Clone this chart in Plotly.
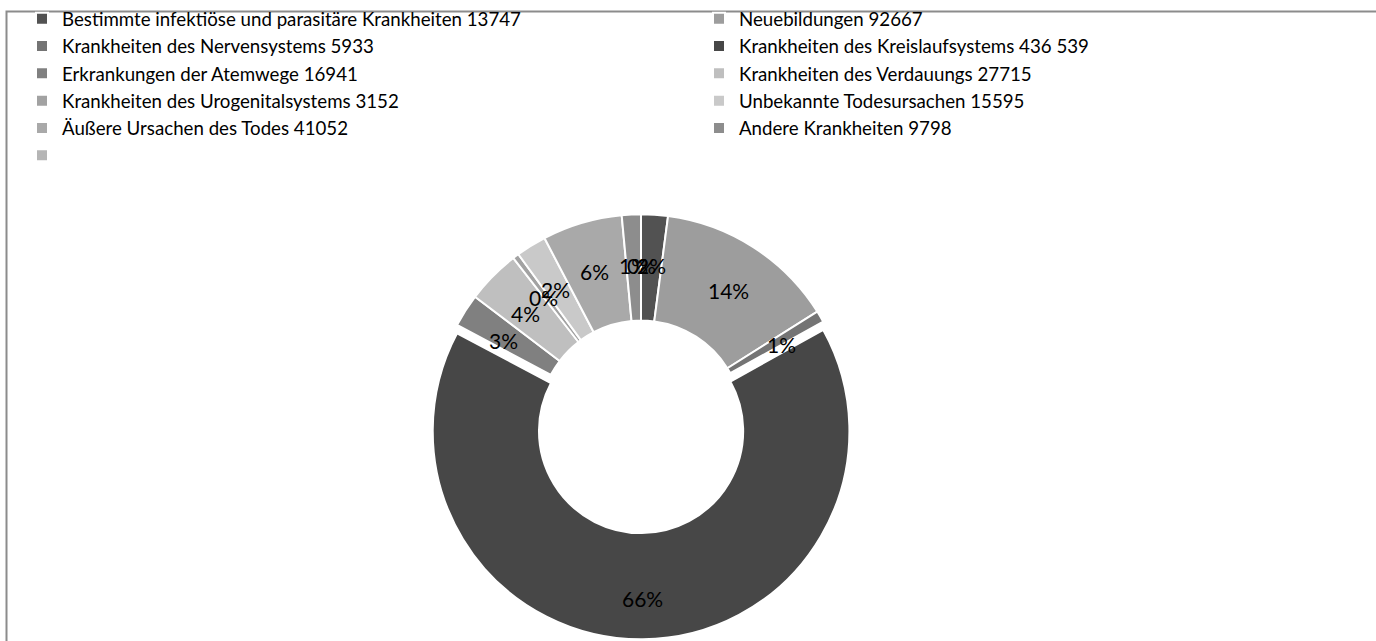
import math
import plotly.graph_objects as go

categories = [
    "Bestimmte infektiöse und parasitäre Krankheiten",
    "Neuebildungen",
    "Krankheiten des Nervensystems",
    "Krankheiten des Kreislaufsystems",
    "Erkrankungen der Atemwege",
    "Krankheiten des Verdauungs",
    "Krankheiten des Urogenitalsystems",
    "Unbekannte Todesursachen",
    "Äußere Ursachen des Todes",
    "Andere Krankheiten",
    "",
]
values = [13747, 92667, 5933, 436539, 16941, 27715, 3152, 15595, 41052, 9798, 0]
value_labels = ["13747", "92667", "5933", "436 539", "16941", "27715", "3152",
                "15595", "41052", "9798", ""]
colors = ["#525252", "#9d9d9d", "#747474", "#474747", "#808080", "#bfbfbf",
          "#a2a2a2", "#c9c9c9", "#a9a9a9", "#8d8d8d", "#b5b5b5"]
pulls = [0, 0, 0, 0.04, 0, 0, 0, 0, 0, 0, 0]
HOLE = 0.49
LABEL_R = 0.78  # label distance as fraction of the outer radius

legend_labels = [(c + " " + v).strip() or " " for c, v in zip(categories, value_labels)]

W, H = 1376, 641
cx, cy, r = 641, 422, 209
maxpull = max(pulls)
half = r * (1 + maxpull)
dom = dict(x=[(cx - half) / W, (cx + half) / W],
           y=[(H - cy - half) / H, (H - cy + half) / H])

fig = go.Figure()
fig.add_trace(go.Pie(
    labels=legend_labels,
    values=values,
    sort=False,
    direction="clockwise",
    rotation=0,
    hole=HOLE,
    pull=pulls,
    marker=dict(colors=colors, line=dict(color="white", width=2)),
    textinfo="none",
    domain=dom,
    hoverinfo="label+value+percent",
))

# percentage labels placed along each slice's mid-angle
total = sum(values)
annotations = []
cum = 0
for v, p in zip(values, pulls):
    ang = math.radians((cum + v / 2) / total * 360)
    rr = (LABEL_R + p) * r
    annotations.append(dict(
        x=(cx + rr * math.sin(ang)) / W,
        y=(H - cy + rr * math.cos(ang)) / H,
        xref="paper", yref="paper", showarrow=False,
        text=f"{round(v / total * 100)}%",
        font=dict(color="black", size=21, family="Lato"),
        xanchor="center", yanchor="middle", yshift=-5,
    ))
    cum += v

fig.update_layout(
    width=W, height=H,
    margin=dict(l=0, r=0, t=0, b=0),
    paper_bgcolor="white",
    font=dict(family="Lato", size=18.7, color="black"),
    showlegend=True,
    legend=dict(
        orientation="h",
        x=0.032, y=1.003, xanchor="left", yanchor="top",
        entrywidth=632, entrywidthmode="pixels",
        itemwidth=30,
        font=dict(family="Lato", size=18.7, color="black"),
        bgcolor="rgba(0,0,0,0)",
        traceorder="normal",
    ),
    annotations=annotations,
    shapes=[dict(type="rect", xref="paper", yref="paper",
                 x0=6.5 / W, x1=1.02, y0=-0.05, y1=1 - 9.5 / H,
                 line=dict(color="#8c8c8c", width=2), layer="below")],
)

fig.write_html("out.html",
               config={"displayModeBar": False},
               post_script="document.body.style.margin='0';document.body.style.overflow='hidden';")
